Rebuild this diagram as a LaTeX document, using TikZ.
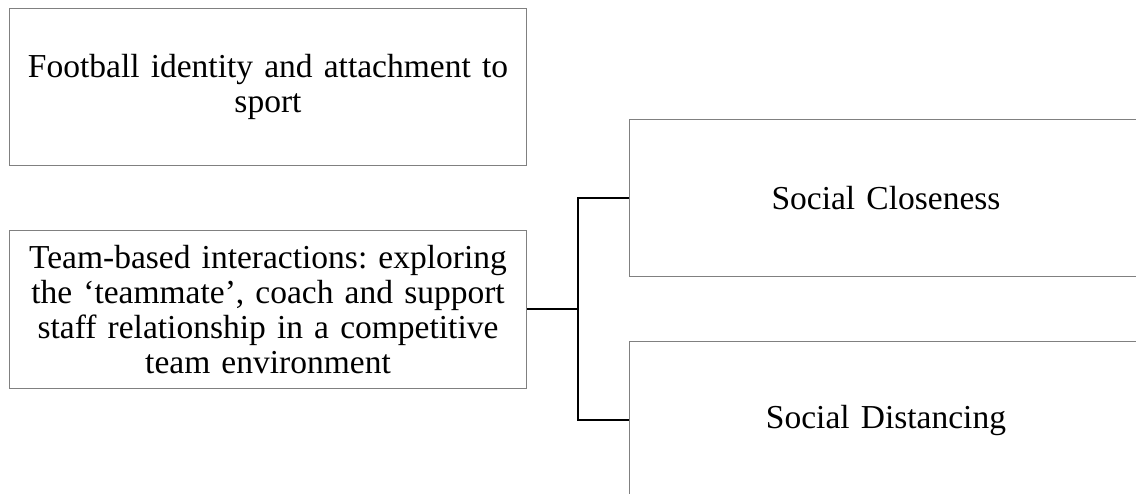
\documentclass[tikz,border=0pt]{standalone}
\usepackage{fontspec}
\setmainfont{Liberation Serif}
\begin{document}
\frenchspacing
\begin{tikzpicture}[x=1pt,y=-1pt,
  box/.style={draw=black!50,line width=1pt,inner sep=0pt,align=center,
    font=\fontsize{33.5}{35}\selectfont\frenchspacing},
  conn/.style={draw=black,line width=2pt}]
\useasboundingbox (0,0) rectangle (1136,494);
\clip (0,0) rectangle (1136,494);
\node[box,minimum width=517pt,minimum height=157pt,text width=512pt] (fi) at (268,87) {Football identity and attachment to\\sport};
\node[box,minimum width=517pt,minimum height=158pt,text width=512pt] (tb) at (268,309.5) {Team-based interactions: exploring\\the `teammate', coach and support\\staff relationship in a competitive\\team environment};
\node[box,minimum width=514pt,minimum height=157pt,text width=500pt] (sc) at (886,198.2) {Social Closeness};
\node[box,minimum width=514pt,minimum height=157pt,text width=500pt] (sd) at (886,420.3) {Social Distancing};
\coordinate (j) at (577.7,309.5);
\draw[conn] (tb.east) -- (j);
\draw[conn] (j) |- (sc.west);
\draw[conn] (j) |- (sd.west);
\end{tikzpicture}
\end{document}
